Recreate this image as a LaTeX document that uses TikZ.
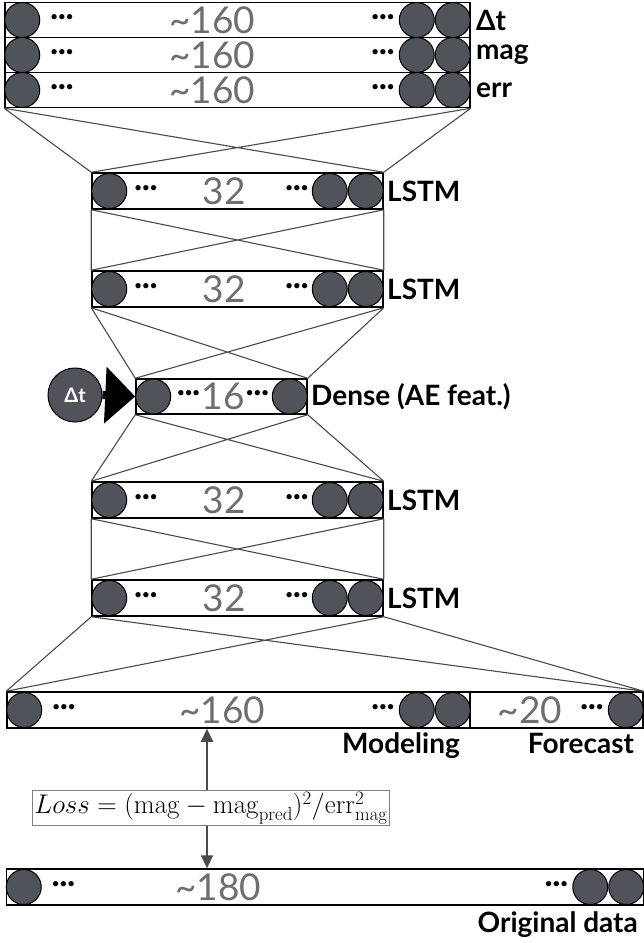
\RequirePackage{fix-cm}
\documentclass[tikz,border=0pt]{standalone}
\usepackage[no-math]{fontspec}
\setmainfont{Lato}
\usetikzlibrary{positioning,arrows.meta}

\definecolor{cellgray}{HTML}{50535A}
\definecolor{numgray}{HTML}{6E6E6E}
\definecolor{wiregray}{HTML}{4A4A4A}

\tikzset{
  layer/.style={draw=black, line width=1.5pt, inner sep=0pt, minimum height=35pt},
  cell/.style={circle, draw=black, fill=cellgray, line width=1pt, minimum size=35pt, inner sep=0pt},
  units/.style={text=numgray, inner sep=0pt, font=\fontsize{37}{37}\selectfont},
  dots/.style={inner sep=0pt, font=\bfseries\fontsize{28}{28}\selectfont},
  tag/.style={anchor=west, inner sep=0pt, font=\bfseries\fontsize{28}{28}\selectfont},
  wire/.style={draw=wiregray, line width=1.1pt},
  pointer/.style={draw=wiregray, line width=2.2pt, -{Triangle[length=13pt,width=12pt]}},
}

\begin{document}
\begin{tikzpicture}[x=1pt,y=-1pt]
   \useasboundingbox (0,0) rectangle (644,943);

   %% Eingabe
   \foreach \n/\y/\t in {dt/20/Δt, mag/55/mag, err/90/err}{
     \node[layer, minimum width=465pt] (\n) at (237.5,\y) {};
     \node[cell, right=0pt of \n.west] (\n L) {};
     \node[cell, left=0pt of \n.east] (\n R2) {};
     \node[cell, left=0pt of \n R2] (\n R1) {};
     \node[dots, right=10pt of \n L] {···};
     \node[dots, left=4pt of \n R1] {···};
     \node[units] at (212,\y) {\textasciitilde160};
     \node[tag] at (476,\y) {\t};
   }

   %% LSTM
   \foreach \n/\y in {l1/191, l2/289, l3/500, l4/598}{
     \node[layer, minimum width=291pt, minimum height=36pt] (\n) at (237.5,\y) {};
     \node[cell, right=0pt of \n.west] (\n L) {};
     \node[cell, left=0pt of \n.east] (\n R2) {};
     \node[cell, left=0pt of \n R2] (\n R1) {};
     \node[dots, right=7pt of \n L] {···};
     \node[dots, left=3pt of \n R1] {···};
     \node[units] at (224,\y) {32};
     \node[tag] at (387,\y) {LSTM};
   }

   %% Dense
   \node[layer, minimum width=171pt] (ae) at (221.5,396.5) {};
   \node[cell, right=0pt of ae.west] (aeL) {};
   \node[cell, left=0pt of ae.east] (aeR) {};
   \node[units] (aenum) at (223,396.5) {16};
   \node[dots, left=1pt of aenum] {···};
   \node[dots, right=1pt of aenum] {···};
   \node[tag] at (311,396.5) {Dense (AE feat.)};

   \node[cell, minimum size=54pt, text=white, font=\bfseries\fontsize{20}{20}\selectfont] (dtin) at (75,395) {Δt};
   \draw[line width=8pt, -{Triangle[length=30pt,width=55pt]}] (dtin.east) -- (ae.west);

   %% Ausgabe
   \node[layer, minimum width=463pt, minimum height=36pt] (model) at (238.5,710) {};
   \node[layer, minimum width=173pt, minimum height=36pt] (fcst) at (556.5,710) {};
   \node[cell, right=0pt of model.west] (modelL) {};
   \node[cell, left=0pt of model.east] (modelR2) {};
   \node[cell, left=0pt of modelR2] (modelR1) {};
   \node[dots, right=10pt of modelL] {···};
   \node[dots, left=4pt of modelR1] {···};
   \node[units] at (222,710) {\textasciitilde160};
   \node[cell, left=0pt of fcst.east] (fcstR) {};
   \node[dots, left=4pt of fcstR] {···};
   \node[units] at (530,710) {\textasciitilde20};
   \node[tag, anchor=base] at (401,753) {Modeling};
   \node[tag, anchor=base] at (581,753) {Forecast};

   %% Original
   \node[layer, minimum width=637pt, minimum height=36pt] (orig) at (325,887) {};
   \node[cell, right=0pt of orig.west] (origL) {};
   \node[cell, left=0pt of orig.east] (origR2) {};
   \node[cell, left=0pt of origR2] (origR1) {};
   \node[dots, right=10pt of origL] {···};
   \node[dots, left=4pt of origR1] {···};
   \node[units] at (218,887) {\textasciitilde180};
   \node[tag, anchor=base east] at (638,932) {Original data};

   %% Verbindungen
   \foreach \a/\b in {err/l1, l1/l2, l2/ae, ae/l3, l3/l4}{
     \draw[wire] (\a.south west) -- (\b.north west) (\a.south west) -- (\b.north east)
                 (\a.south east) -- (\b.north west) (\a.south east) -- (\b.north east);
   }
   \draw[wire] (l4.south west) -- (model.north west) (l4.south west) -- (fcst.north east)
               (l4.south east) -- (model.north west) (l4.south east) -- (fcst.north east);

   %% Loss
   \node[draw=gray, line width=0.8pt, inner sep=1.5pt] (loss) at (211,808)
     {\fontsize{27}{27}\selectfont$Loss = (\mathrm{mag}-\mathrm{mag}_{\mathrm{pred}})^2/\mathrm{err}^2_{\mathrm{mag}}$};
   \draw[pointer] (loss.north -| 207,0) -- (model.south -| 207,0);
   \draw[pointer] (loss.south -| 207,0) -- (orig.north -| 207,0);
\end{tikzpicture}
\end{document}
